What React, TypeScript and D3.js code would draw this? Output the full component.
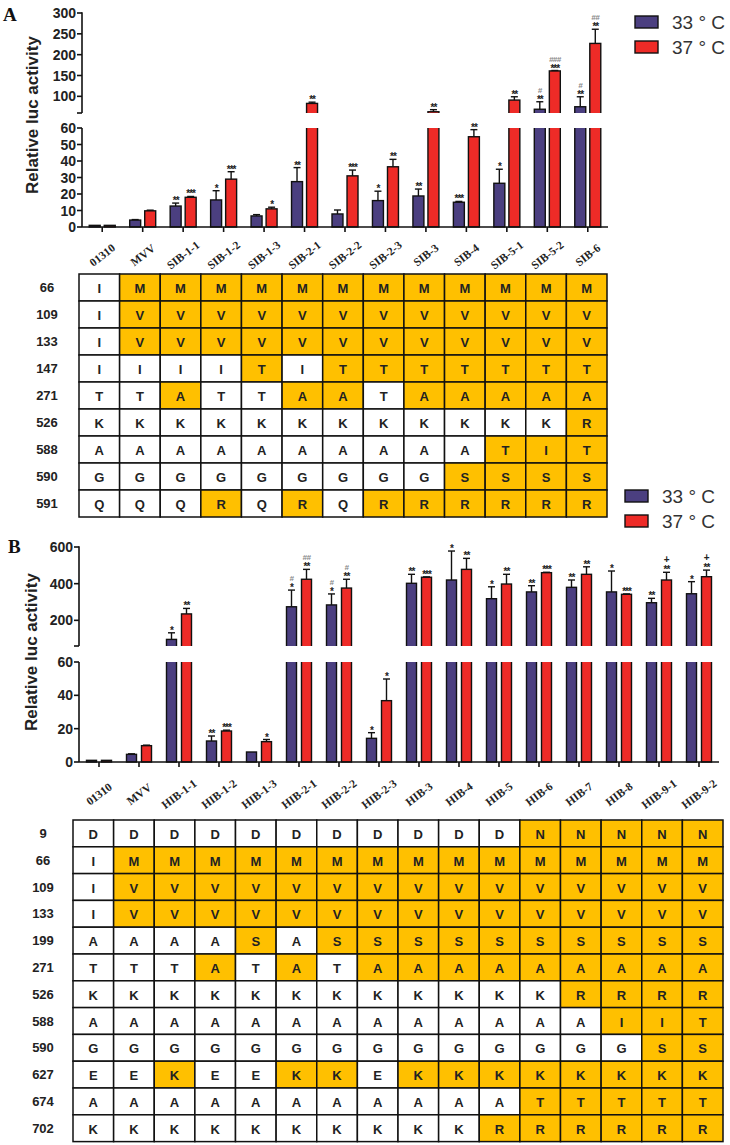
import React from "react";
import * as d3 from "d3";

// ---------- Panel A data ----------
const catsA = ["01310", "MVV", "SIB-1-1", "SIB-1-2", "SIB-1-3", "SIB-2-1", "SIB-2-2", "SIB-2-3", "SIB-3", "SIB-4", "SIB-5-1", "SIB-5-2", "SIB-6"];
const a33 = [1, 4.2, 12.7, 16.4, 6.7, 27.5, 7.9, 16, 18.8, 15, 26.5, 69, 75];
const a33sd = [0, 0.3, 1.8, 5.6, 0.8, 8.5, 2.4, 5.7, 4.2, 0.5, 8.5, 18, 24];
const a37 = [1, 9.8, 18, 29, 11, 83, 31, 36.5, 63, 54.7, 91, 161, 227];
const a37sd = [0, 0.4, 0.5, 4.5, 1, 3, 3.5, 4.5, 5, 4.3, 8, 1, 34];
const starsA33 = ["", "", "**", "*", "", "**", "", "*", "**", "***", "*", "**", "**"];
const hashA33 = ["", "", "", "", "", "", "", "", "", "", "", "#", "#"];
const starsA37 = ["", "", "***", "***", "*", "**", "***", "**", "**", "**", "**", "***", "**"];
const hashA37 = ["", "", "", "", "", "", "", "", "", "", "", "###", "##"];
const upperTicksA = [100, 150, 200, 250, 300];
const lowerTicksA = [0, 10, 20, 30, 40, 50, 60];

// ---------- Panel B data ----------
const catsB = ["01310", "MVV", "HIB-1-1", "HIB-1-2", "HIB-1-3", "HIB-2-1", "HIB-2-2", "HIB-2-3", "HIB-3", "HIB-4", "HIB-5", "HIB-6", "HIB-7", "HIB-8", "HIB-9-1", "HIB-9-2"];
const b33 = [1, 4.6, 96, 12.6, 6, 274, 284, 14.2, 402, 420, 318, 355, 380, 355, 296, 345];
const b33sd = [0, 0.3, 36, 3, 0, 91, 60, 3.4, 49, 158, 65, 34, 40, 114, 24, 66];
const b37 = [1, 9.8, 235, 18.6, 12.2, 424, 376, 36.8, 435, 478, 398, 460, 451, 342, 420, 438];
const b37sd = [0, 0.3, 30, 0.5, 1.3, 54, 48, 13, 2, 60, 53, 2, 41, 2, 42, 36];
const starsB33 = ["", "", "*", "**", "", "*", "*", "*", "**", "*", "*", "**", "**", "*", "**", "*"];
const hashB33 = ["", "", "", "", "", "#", "#", "", "", "", "", "", "", "", "", ""];
const starsB37 = ["", "", "**", "***", "*", "**", "**", "*", "***", "**", "**", "***", "**", "***", "**", "**"];
const hashB37 = ["", "", "", "", "", "##", "#", "", "", "", "", "", "", "", "+", "+"];
const upperTicksB = [200, 400, 600];
const lowerTicksB = [0, 20, 40, 60];

// ---------- Tables ----------
const rowsA = ["66", "109", "133", "147", "271", "526", "588", "590", "591"];
const resA = [
  "IMMMMMMMMMMMM",
  "IVVVVVVVVVVVV",
  "IVVVVVVVVVVVV",
  "IIIITITTTTTTT",
  "TTATTAATAAAAA",
  "KKKKKKKKKKKKR",
  "AAAAAAAAAATIT",
  "GGGGGGGGGSSSS",
  "QQQRQRQRRRRRR",
];
const rowsB = ["9", "66", "109", "133", "199", "271", "526", "588", "590", "627", "674", "702"];
const resB = [
  "DDDDDDDDDDDNNNNN",
  "IMMMMMMMMMMMMMMM",
  "IVVVVVVVVVVVVVVV",
  "IVVVVVVVVVVVVVVV",
  "AAAASASSSSSSSSSS",
  "TTTATATAAAAAAAAA",
  "KKKKKKKKKKKKRRRR",
  "AAAAAAAAAAAAAIIT",
  "GGGGGGGGGGGGGGSS",
  "EEKEEKKEKKKKKKKK",
  "AAAAAAAAAAATTTTT",
  "KKKKKKKKKKRRRRRR",
];

const seriesKeys = ["33", "37"];
const legendLabels = ["33 ° C", "37 ° C"];

const PURPLE = "#4B3F80";
const RED = "#EE2B27";
const GOLD = "#FFC000";
const BREAK = 60;
const SANS = "'Liberation Sans', Arial, sans-serif";
const SERIF = "'Liberation Serif', 'Times New Roman', serif";

type ChartProps = {
  id: string;
  cats: string[];
  vals: number[][];
  sds: number[][];
  stars: string[][];
  hashes: string[][];
  x0: number;
  x1: number;
  upperDomain: [number, number];
  upperRange: [number, number];
  upperTicks: number[];
  lowerRange: [number, number];
  lowerTicks: number[];
  barHalf: number;
  padInner: number;
  labelY: number;
  labelAngle: number;
  titlePos: [number, number];
};

function Chart(p: ChartProps) {
  const x = d3.scaleBand<string>().domain(p.cats).range([p.x0, p.x1]).padding(0);
  const sub = d3.scaleBand<string>().domain(seriesKeys).range([-p.barHalf, p.barHalf]).paddingInner(p.padInner);
  const yU = d3.scaleLinear().domain(p.upperDomain).range(p.upperRange);
  const yL = d3.scaleLinear().domain([0, BREAK]).range(p.lowerRange);
  const upBottom = yU(BREAK);
  const lowTop = yL(BREAK);
  const zeroY = yL(0);
  const bw = sub.bandwidth();
  const colors = [PURPLE, RED];

  const marks: React.ReactNode[] = [];
  p.cats.forEach((c, i) => {
    const cx = (x(c) as number) + x.bandwidth() / 2;
    seriesKeys.forEach((s, si) => {
      const v = p.vals[si][i];
      const sd = p.sds[si][i];
      const bx = cx + (sub(s) as number);
      // lower segment
      const ly = yL(Math.min(v, BREAK + 6));
      marks.push(
        <rect key={`l${i}${s}`} x={bx} y={ly} width={bw} height={zeroY - ly}
          fill={colors[si]} stroke="#111" strokeWidth={1.4} clipPath={`url(#${p.id}-low)`} />
      );
      if (v > BREAK) {
        const uy = yU(v);
        marks.push(
          <rect key={`u${i}${s}`} x={bx} y={uy} width={bw} height={upBottom + 6 - uy}
            fill={colors[si]} stroke="#111" strokeWidth={1.4} clipPath={`url(#${p.id}-up)`} />
        );
      }
      const sc = v > BREAK ? yU : yL;
      const top = v + sd;
      const yTop = sc(top);
      const mx = bx + bw / 2;
      if (sd > 0) {
        marks.push(
          <g key={`e${i}${s}`} stroke="#111" strokeWidth={1.4}>
            <line x1={mx} x2={mx} y1={sc(v)} y2={yTop} />
            <line x1={mx - 3.5} x2={mx + 3.5} y1={yTop} y2={yTop} />
          </g>
        );
      }
      const st = p.stars[si][i];
      const hs = p.hashes[si][i];
      if (st) {
        marks.push(
          <text key={`s${i}${s}`} x={mx} y={yTop + 1} textAnchor="middle" fontFamily={SANS}
            fontSize={10} fontWeight="bold" fill="#222" letterSpacing={-1}>{st}</text>
        );
      }
      if (hs) {
        const isPlus = hs === "+";
        marks.push(
          <text key={`h${i}${s}`} x={mx} y={yTop - 9} textAnchor="middle" fontFamily={SANS}
            fontSize={isPlus ? 10 : 8} fontStyle={isPlus ? "normal" : "italic"} fontWeight="bold"
            fill={isPlus ? "#222" : "#888"} letterSpacing={-0.5}>{hs}</text>
        );
      }
    });
  });

  const ax = p.x0;
  return (
    <g>
      <defs>
        <clipPath id={`${p.id}-low`}>
          <rect x={0} y={lowTop} width={730} height={zeroY - lowTop + 3} />
        </clipPath>
        <clipPath id={`${p.id}-up`}>
          <rect x={0} y={0} width={730} height={upBottom} />
        </clipPath>
      </defs>
      {marks}
      {/* y axis upper */}
      <g stroke="#111" strokeWidth={1.6}>
        <line x1={ax} x2={ax} y1={yU(p.upperDomain[1]) - 0.8} y2={upBottom} />
        {[...p.upperTicks, BREAK].map((t) => (
          <line key={`ut${t}`} x1={ax - 5} x2={ax} y1={yU(t)} y2={yU(t)} />
        ))}
        <line x1={ax} x2={ax} y1={lowTop} y2={zeroY} />
        {p.lowerTicks.map((t) => (
          <line key={`lt${t}`} x1={ax - 5} x2={ax} y1={yL(t)} y2={yL(t)} />
        ))}
        <line x1={ax} x2={p.x1} y1={zeroY} y2={zeroY} />
        {p.cats.map((c) => {
          const cx = (x(c) as number) + x.bandwidth() / 2;
          return <line key={`xt${c}`} x1={cx} x2={cx} y1={zeroY} y2={zeroY + 5} />;
        })}
      </g>
      <g fontFamily={SANS} fontSize={14} fontWeight="bold" fill="#222" textAnchor="end">
        {p.upperTicks.map((t) => (
          <text key={`utl${t}`} x={ax - 6} y={yU(t) + 5}>{t}</text>
        ))}
        {p.lowerTicks.map((t) => (
          <text key={`ltl${t}`} x={ax - 6} y={yL(t) + 5}>{t}</text>
        ))}
      </g>
      <text transform={`translate(${p.titlePos[0]},${p.titlePos[1]}) rotate(-90)`} textAnchor="middle"
        dominantBaseline="central" fontFamily={SANS} fontSize={17} fontWeight="bold" fill="#222">
        Relative luc activity
      </text>
      <g fontFamily={SERIF} fontSize={11.5} fontWeight="bold" fill="#222">
        {p.cats.map((c) => {
          const cx = (x(c) as number) + x.bandwidth() / 2;
          return (
            <text key={`xl${c}`} transform={`translate(${cx},${p.labelY}) rotate(${p.labelAngle})`}
              textAnchor="middle" dominantBaseline="central">{c}</text>
          );
        })}
      </g>
    </g>
  );
}

function Legend({ x, y, gap, textX }: { x: number; y: number; gap: number; textX: number }) {
  return (
    <g>
      {seriesKeys.map((s, i) => (
        <g key={s}>
          <rect x={x} y={y + i * gap} width={23} height={12} fill={i === 0 ? PURPLE : RED} stroke="#111" strokeWidth={1.4} />
          <text x={textX} y={y + i * gap + 6} dominantBaseline="central" fontFamily={SANS} fontSize={19} fill="#333">
            {legendLabels[i]}
          </text>
        </g>
      ))}
    </g>
  );
}

function Table({ cols, rows, res, x0, x1, y0, rowH, labelX }:
  { cols: string[]; rows: string[]; res: string[]; x0: number; x1: number; y0: number; rowH: number; labelX: number }) {
  const x = d3.scaleBand<string>().domain(cols).range([x0, x1]).padding(0);
  const y = d3.scaleBand<string>().domain(rows).range([y0, y0 + rowH * rows.length]).padding(0);
  const cw = x.bandwidth();
  const rh = y.bandwidth();
  return (
    <g>
      {rows.map((r, ri) => {
        const letters = res[ri].split("");
        const ref = letters[0];
        return (
          <g key={r}>
            <text x={labelX} y={(y(r) as number) + rh / 2} textAnchor="middle" dominantBaseline="central"
              fontFamily={SANS} fontSize={13} fontWeight="bold" fill="#222">{r}</text>
            {letters.map((l, ci) => (
              <g key={ci}>
                <rect x={x(cols[ci]) as number} y={y(r) as number} width={cw} height={rh}
                  fill={l !== ref ? GOLD : "#fff"} stroke="#111" strokeWidth={1.5} />
                <text x={(x(cols[ci]) as number) + cw / 2} y={(y(r) as number) + rh / 2 + 1}
                  textAnchor="middle" dominantBaseline="central" fontFamily={SANS} fontSize={13}
                  fontWeight="bold" fill="#222">{l}</text>
              </g>
            ))}
          </g>
        );
      })}
    </g>
  );
}

export default function App() {
  return (
    <svg width={730} height={1145} viewBox="0 0 730 1145"
      style={{ position: "absolute", left: 0, top: 0, display: "block", background: "#fff" }}>
      <rect width={730} height={1145} fill="#fff" />
      <text x={3} y={21} fontFamily={SERIF} fontSize={19} fontWeight="bold" fill="#111">A</text>
      <Chart id="ca" cats={catsA} vals={[a33, a37]} sds={[a33sd, a37sd]}
        stars={[starsA33, starsA37]} hashes={[hashA33, hashA37]}
        x0={82} x1={608} upperDomain={[BREAK, 300]} upperRange={[113, 13]} upperTicks={upperTicksA}
        lowerRange={[227, 128]} lowerTicks={lowerTicksA} barHalf={13} padInner={0.27}
        labelY={255} labelAngle={-38} titlePos={[32, 115]} />
      <Legend x={635} y={16} gap={25} textX={672} />
      <Table cols={catsA} rows={rowsA} res={resA} x0={79} x1={607} y0={274} rowH={27} labelX={47} />

      <text x={8} y={553} fontFamily={SERIF} fontSize={19} fontWeight="bold" fill="#111">B</text>
      <Legend x={625} y={490} gap={25} textX={662} />
      <Chart id="cb" cats={catsB} vals={[b33, b37]} sds={[b33sd, b37sd]}
        stars={[starsB33, starsB37]} hashes={[hashB33, hashB37]}
        x0={79} x1={719} upperDomain={[BREAK, 600]} upperRange={[646, 547]} upperTicks={upperTicksB}
        lowerRange={[762, 662]} lowerTicks={lowerTicksB} barHalf={12.5} padInner={0.333}
        labelY={794} labelAngle={-37} titlePos={[31, 652]} />
      <Table cols={catsB} rows={rowsB} res={resB} x0={73} x1={723} y0={820} rowH={26.8} labelX={43} />
    </svg>
  );
}
